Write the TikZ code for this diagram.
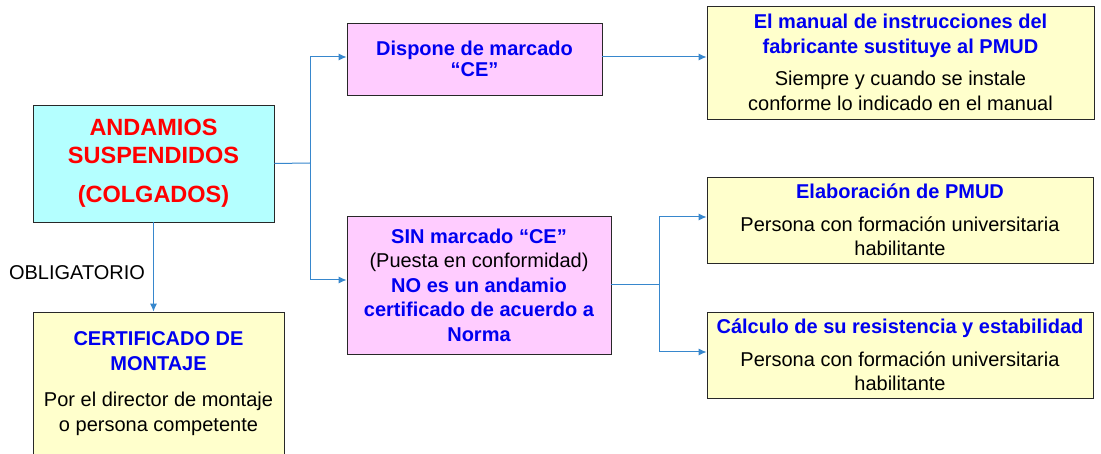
\documentclass[tikz,border=0pt]{standalone}
\usepackage{fontspec}
\setmainfont{Liberation Sans}
\usetikzlibrary{arrows.meta}
\definecolor{cyanfill}{RGB}{180,255,255}
\definecolor{pinkfill}{RGB}{255,204,255}
\definecolor{yelfill}{RGB}{255,255,204}
\definecolor{tblue}{RGB}{0,0,240}
\definecolor{tred}{RGB}{255,0,0}
\definecolor{conncol}{RGB}{55,135,205}
\definecolor{boxborder}{RGB}{40,40,40}
\newcommand\bluebf[1]{\textbf{\textcolor{tblue}{#1}}}
\tikzset{
  box/.style={draw=boxborder, line width=0.9pt, inner sep=0pt, align=center,
    font=\fontsize{20}{24.5}\selectfont},
  conn/.style={draw=conncol, line width=1pt},
  arr/.style={conn, -{Latex[length=8pt,width=7pt]}},
}
\begin{document}
\begin{tikzpicture}[x=1pt,y=-1pt]
\fill[white] (0,0) rectangle (1101,454);
\useasboundingbox (0,0) rectangle (1101,454);

\node[box, fill=cyanfill, minimum width=241pt, minimum height=117pt, text=tred,
  font=\fontsize{23.5}{28}\selectfont\bfseries] (main) at (153.5,163.5)
  {ANDAMIOS\\SUSPENDIDOS\\[11pt](COLGADOS)};

\node[box, fill=yelfill, minimum width=251pt, minimum height=143pt] (cert) at (158.5,383.5)
  {\bluebf{CERTIFICADO DE}\\\bluebf{MONTAJE}\\[12pt]Por el director de montaje\\o persona competente};

\node[box, fill=pinkfill, minimum width=255pt, minimum height=72pt, text=tblue,
  font=\fontsize{20}{20.5}\selectfont\bfseries] (dispone) at (474.5,59)
  {Dispone de marcado\\``CE''};

\node[box, fill=pinkfill, minimum width=264pt, minimum height=138pt] (sin) at (479,285)
  {\bluebf{SIN marcado ``CE''}\\(Puesta en conformidad)\\\bluebf{NO es un andamio}\\\bluebf{certificado de acuerdo a}\\\bluebf{Norma}};

\node[box, fill=yelfill, minimum width=387pt, minimum height=113pt] (manual) at (900.5,62.5)
  {\bluebf{El manual de instrucciones del}\\\bluebf{fabricante sustituye al PMUD}\\[8pt]Siempre y cuando se instale\\conforme lo indicado en el manual};

\node[box, fill=yelfill, minimum width=386pt, minimum height=86pt] (elab) at (900,220)
  {\bluebf{Elaboración de PMUD}\\[8pt]Persona con formación universitaria\\habilitante};

\node[box, fill=yelfill, minimum width=386pt, minimum height=86pt] (calc) at (900,355)
  {\bluebf{Cálculo de su resistencia y estabilidad}\\[8pt]Persona con formación universitaria\\habilitante};

\node[font=\fontsize{20}{24}\selectfont, inner sep=0pt] (oblig) at (77,273) {OBLIGATORIO};

\coordinate (j1) at (310,163);
\coordinate (j2) at (659,285);

\draw[conn] (main.east) -- (j1);
\draw[arr] (j1) |- ([yshift=2pt]dispone.west);
\draw[arr] (j1) |- ([yshift=5pt]sin.west);
\draw[arr] ([yshift=2pt]dispone.east) -- ([yshift=2pt]dispone.east -| manual.west);
\draw[conn] (sin.east) -- (j2);
\draw[arr] (j2) |- ([yshift=3pt]elab.west);
\draw[arr] (j2) |- ([yshift=3pt]calc.west);
\draw[arr] (main.south) -- (main.south |- cert.north);
\end{tikzpicture}
\end{document}
